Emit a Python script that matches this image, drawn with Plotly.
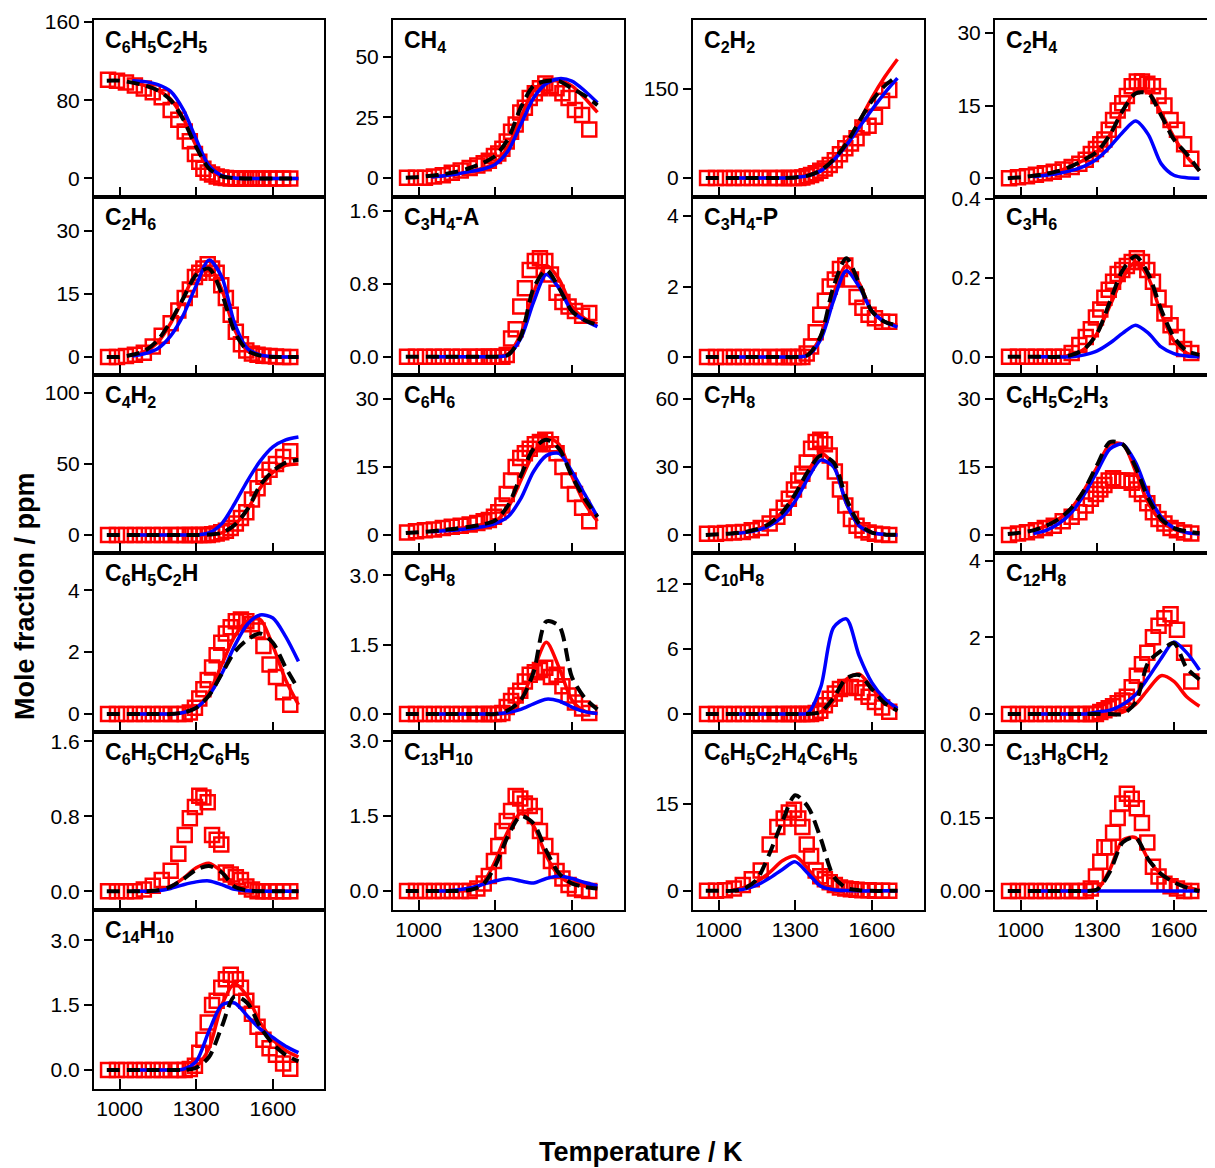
import plotly.graph_objects as go

# ---------------- data ----------------
T_exp = [955, 990, 1025, 1060, 1095, 1130, 1165, 1200, 1230, 1255, 1275, 1295, 1312, 1328, 1345,
         1362, 1380, 1398, 1416, 1435, 1455, 1475, 1496, 1518, 1540, 1563, 1587, 1612, 1640, 1668]
T_black = [950, 1000, 1050, 1100, 1150, 1200, 1250, 1300, 1350, 1400, 1450, 1500, 1550, 1600, 1650, 1700]
T_rb = [1050, 1100, 1150, 1200, 1250, 1300, 1350, 1400, 1450, 1500, 1550, 1600, 1650, 1700]

species = ["C6H5C2H5", "CH4", "C2H2", "C2H4", "C2H6", "C3H4-A", "C3H4-P", "C3H6",
           "C4H2", "C6H6", "C7H8", "C6H5C2H3", "C6H5C2H", "C9H8", "C10H8", "C12H8",
           "C6H5CH2C6H5", "C13H10", "C6H5C2H4C6H5", "C13H8CH2", "C14H10"]

labels = ["C<sub>6</sub>H<sub>5</sub>C<sub>2</sub>H<sub>5</sub>", "CH<sub>4</sub>", "C<sub>2</sub>H<sub>2</sub>",
          "C<sub>2</sub>H<sub>4</sub>", "C<sub>2</sub>H<sub>6</sub>", "C<sub>3</sub>H<sub>4</sub>-A",
          "C<sub>3</sub>H<sub>4</sub>-P", "C<sub>3</sub>H<sub>6</sub>", "C<sub>4</sub>H<sub>2</sub>",
          "C<sub>6</sub>H<sub>6</sub>", "C<sub>7</sub>H<sub>8</sub>", "C<sub>6</sub>H<sub>5</sub>C<sub>2</sub>H<sub>3</sub>",
          "C<sub>6</sub>H<sub>5</sub>C<sub>2</sub>H", "C<sub>9</sub>H<sub>8</sub>", "C<sub>10</sub>H<sub>8</sub>",
          "C<sub>12</sub>H<sub>8</sub>", "C<sub>6</sub>H<sub>5</sub>CH<sub>2</sub>C<sub>6</sub>H<sub>5</sub>",
          "C<sub>13</sub>H<sub>10</sub>", "C<sub>6</sub>H<sub>5</sub>C<sub>2</sub>H<sub>4</sub>C<sub>6</sub>H<sub>5</sub>",
          "C<sub>13</sub>H<sub>8</sub>CH<sub>2</sub>", "C<sub>14</sub>H<sub>10</sub>"]

exp_C6H5C2H5 = [101, 100, 98, 95, 92, 88, 83, 70, 60, 48, 38, 25, 17, 10, 6, 4, 2, 1, 0.5, 0, 0, 0, 0, 0, 0, 0, 0, 0, 0, 0]
blue_C6H5C2H5 = [100, 99, 96, 89, 70, 40, 13, 3, 0.5, 0, 0, 0, 0, 0]
red_C6H5C2H5 = [98, 95, 90, 81, 61, 33, 10, 2, 0.3, 0, 0, 0, 0, 0]
black_C6H5C2H5 = [100, 100, 98, 95, 90, 80, 60, 32, 10, 2, 0.3, 0, 0, 0, 0, 0]

exp_CH4 = [0, 0, 0, 0.5, 1, 2, 3, 4, 5, 6, 7, 9, 10, 12, 15, 19, 22, 27, 29, 33, 35, 37, 39, 38, 37, 35, 33, 28, 26, 20]
blue_CH4 = [0.3, 0.8, 1.5, 2.5, 3.5, 5.5, 11, 22, 33, 39, 41, 40, 36, 31]
red_CH4 = [0.3, 0.8, 1.5, 2.5, 3.8, 6, 13, 25, 36, 40, 40.5, 38, 33, 27]
black_CH4 = [0, 0.3, 0.8, 1.5, 2.5, 4, 6, 9, 16, 29, 38, 40, 40, 37, 34, 30]

exp_C2H2 = [0, 0, 0, 0, 0, 0, 0, 0, 0, 0, 0, 0, 0, 1, 3, 5, 8, 12, 16, 22, 30, 40, 50, 58, 67, 85, 88, 103, 130, 148]
blue_C2H2 = [0, 0, 0, 0, 0, 1, 4, 12, 30, 55, 85, 115, 143, 168]
red_C2H2 = [0, 0, 0, 0, 0, 1, 5, 14, 33, 60, 95, 135, 170, 200]
black_C2H2 = [0, 0, 0, 0, 0, 0, 0, 1, 4, 13, 31, 58, 95, 130, 155, 172]

exp_C2H4 = [0, 0.2, 0.4, 0.7, 1, 1.3, 1.8, 2.3, 3, 3.8, 5, 6, 7, 8, 10, 12, 14, 15.5, 17, 19, 20, 20, 19.5, 19, 17, 15, 12, 10, 7, 4]
blue_C2H4 = [0.3, 0.6, 1, 1.6, 2.5, 4, 6.5, 9.5, 11.8, 9, 3, 0.6, 0.1, 0]
red_C2H4 = [0.5, 0.9, 1.5, 2.5, 3.8, 5.5, 9, 14, 17.8, 17.8, 13.5, 8.5, 4.5, 1.5]
black_C2H4 = [0, 0.2, 0.5, 0.9, 1.5, 2.5, 3.8, 5.5, 9, 14, 17.5, 17.5, 13, 8, 5, 1.5]

exp_C2H6 = [0, 0, 0.2, 0.5, 1, 2.5, 5, 8, 11, 14, 16, 19, 20, 21, 22, 21, 20, 17, 14, 10, 6, 3, 1.5, 0.8, 0.5, 0.3, 0.2, 0.1, 0, 0]
blue_C2H6 = [0.2, 0.8, 2, 5, 10, 17, 23, 19, 8, 2, 0.5, 0.1, 0, 0]
red_C2H6 = [0.4, 1.3, 3.5, 8, 14, 20, 21.5, 16, 6.5, 1.5, 0.3, 0, 0, 0]
black_C2H6 = [0, 0, 0.5, 1.5, 4, 8.5, 14, 19.5, 21, 15, 6, 1.5, 0.3, 0, 0, 0]

exp_C3H4A = [0, 0, 0, 0, 0, 0, 0, 0, 0, 0, 0, 0, 0, 0, 0.02, 0.2, 0.3, 0.55, 0.75, 0.95, 1.05, 1.08, 1.05, 0.9, 0.7, 0.6, 0.55, 0.5, 0.45, 0.48]
blue_C3H4A = [0, 0, 0, 0, 0, 0, 0.02, 0.2, 0.6, 0.9, 0.75, 0.5, 0.4, 0.33]
red_C3H4A = [0, 0, 0, 0, 0, 0, 0.03, 0.25, 0.7, 1.0, 0.85, 0.55, 0.42, 0.36]
black_C3H4A = [0, 0, 0, 0, 0, 0, 0, 0, 0.02, 0.22, 0.75, 0.95, 0.75, 0.5, 0.4, 0.35]

exp_C3H4P = [0, 0, 0, 0, 0, 0, 0, 0, 0, 0, 0, 0, 0, 0, 0.1, 0.3, 0.7, 1.2, 1.6, 2.0, 2.2, 2.5, 2.6, 2.2, 1.7, 1.4, 1.2, 1.1, 1.0, 1.0]
blue_C3H4P = [0, 0, 0, 0, 0, 0, 0.05, 0.5, 1.6, 2.45, 2.0, 1.3, 1.0, 0.85]
red_C3H4P = [0, 0, 0, 0, 0, 0, 0.06, 0.6, 1.8, 2.6, 2.1, 1.3, 1.0, 0.9]
black_C3H4P = [0, 0, 0, 0, 0, 0, 0, 0, 0.06, 0.6, 2.0, 2.8, 2.1, 1.3, 1.0, 0.9]

exp_C3H6 = [0, 0, 0, 0, 0, 0, 0, 0.01, 0.03, 0.05, 0.07, 0.1, 0.12, 0.15, 0.17, 0.19, 0.21, 0.22, 0.23, 0.24, 0.25, 0.24, 0.22, 0.19, 0.15, 0.11, 0.08, 0.05, 0.02, 0.01]
blue_C3H6 = [0, 0, 0, 0, 0.005, 0.015, 0.035, 0.06, 0.08, 0.06, 0.025, 0.008, 0.002, 0]
red_C3H6 = [0, 0, 0, 0.005, 0.02, 0.06, 0.13, 0.2, 0.24, 0.2, 0.11, 0.04, 0.01, 0]
black_C3H6 = [0, 0, 0, 0, 0, 0.005, 0.02, 0.06, 0.14, 0.22, 0.255, 0.21, 0.12, 0.05, 0.015, 0.005]

exp_C4H2 = [0, 0, 0, 0, 0, 0, 0, 0, 0, 0, 0, 0, 0, 0, 0, 0.5, 1, 2, 3, 5, 8, 12, 16, 25, 33, 41, 46, 50, 55, 59]
blue_C4H2 = [0, 0, 0, 0, 0, 0, 1.5, 8, 22, 38, 52, 62, 67, 69]
red_C4H2 = [0, 0, 0, 0, 0, 0, 0.3, 1.5, 7, 18, 33, 44, 49, 50]
black_C4H2 = [0, 0, 0, 0, 0, 0, 0, 0, 0.3, 1.5, 7, 18, 35, 45, 51, 53]

exp_C6H6 = [0.5, 0.8, 1, 1.2, 1.5, 1.8, 2, 2.3, 2.6, 3, 3.3, 4, 5, 6.5, 9, 12, 15, 17, 18, 19, 20, 20.5, 21, 20, 18, 15, 12, 9, 6, 3]
blue_C6H6 = [0.7, 0.9, 1.1, 1.4, 1.8, 2.5, 4, 8, 14, 17.5, 18, 14, 9, 4]
red_C6H6 = [0.8, 1.1, 1.4, 1.8, 2.3, 3, 6, 12, 18, 21.5, 20, 13, 7, 3]
black_C6H6 = [0.4, 0.6, 0.8, 1.1, 1.4, 1.8, 2.3, 3.2, 6.5, 13, 19, 21, 19, 13, 8, 4]

exp_C7H8 = [0.5, 0.5, 0.8, 1, 1.3, 2, 3, 5, 8, 12, 16, 20, 24, 27, 32, 38, 41, 42, 40, 35, 28, 20, 13, 7, 4, 2, 1, 0.5, 0.2, 0]
blue_C7H8 = [0.5, 1, 2, 4, 8, 15, 25, 33, 30, 14, 4, 1, 0.2, 0]
red_C7H8 = [0.6, 1.2, 2.5, 5, 10, 18, 28, 36, 31, 14, 4, 1, 0.2, 0]
black_C7H8 = [0, 0.3, 0.6, 1.2, 2.5, 5, 10, 18, 28, 35, 32, 16, 5, 1, 0.2, 0]

exp_C6H5C2H3 = [0, 0.3, 0.6, 1, 1.5, 2, 3, 4, 5, 6.5, 8, 9, 10, 11, 12, 12.5, 12, 12, 12, 11.5, 10, 9, 7, 5, 3.5, 2.5, 1.5, 1, 0.5, 0.3]
blue_C6H5C2H3 = [0.3, 1, 2.5, 5, 9, 14, 19, 20, 16, 9, 4, 1.5, 0.5, 0.2]
red_C6H5C2H3 = [1, 2, 3.5, 6, 10, 15, 20, 20, 14, 7, 3, 1.2, 0.5, 0.2]
black_C6H5C2H3 = [0.2, 0.5, 1, 2, 3.5, 6, 10, 15.5, 20.5, 20, 15, 8, 3.5, 1.5, 0.8, 0.4]

exp_C6H5C2H = [0, 0, 0, 0, 0, 0, 0, 0, 0, 0, 0.05, 0.2, 0.5, 0.8, 1.1, 1.5, 1.9, 2.3, 2.6, 2.8, 3.0, 3.05, 3.0, 2.9, 2.7, 2.2, 1.6, 1.2, 0.7, 0.3]
blue_C6H5C2H = [0, 0, 0, 0, 0.05, 0.2, 0.6, 1.3, 2.2, 2.9, 3.2, 3.1, 2.5, 1.7]
red_C6H5C2H = [0, 0, 0, 0, 0.05, 0.2, 0.7, 1.6, 2.5, 3.0, 3.05, 2.2, 1.1, 0.3]
black_C6H5C2H = [0, 0, 0, 0, 0, 0, 0.05, 0.2, 0.6, 1.3, 2.0, 2.4, 2.6, 2.3, 1.5, 0.8]

exp_C9H8 = [0, 0, 0, 0, 0, 0, 0, 0, 0, 0, 0, 0, 0, 0.02, 0.15, 0.28, 0.4, 0.5, 0.7, 0.85, 0.9, 0.95, 1.0, 0.8, 0.85, 0.6, 0.4, 0.25, 0.12, 0.02]
blue_C9H8 = [0, 0, 0, 0, 0, 0, 0.03, 0.1, 0.22, 0.32, 0.28, 0.15, 0.05, 0.01]
red_C9H8 = [0, 0, 0, 0, 0, 0, 0.03, 0.3, 0.95, 1.55, 1.0, 0.3, 0.06, 0.01]
black_C9H8 = [0, 0, 0, 0, 0, 0, 0, 0, 0.08, 0.3, 0.9, 2.0, 1.9, 0.8, 0.35, 0.1]

exp_C10H8 = [0, 0, 0, 0, 0, 0, 0, 0, 0, 0, 0, 0, 0, 0, 0, 0, 0.1, 0.3, 0.8, 1.4, 1.9, 2.3, 2.5, 2.5, 2.4, 2.0, 1.6, 1.1, 0.6, 0.2]
blue_C10H8 = [0, 0, 0, 0, 0, 0, 0.1, 2.5, 8.0, 8.8, 5.4, 2.9, 1.4, 0.5]
red_C10H8 = [0, 0, 0, 0, 0, 0, 0, 0.2, 1.2, 3.2, 3.7, 2.4, 1.0, 0.3]
black_C10H8 = [0, 0, 0, 0, 0, 0, 0, 0, 0, 0.2, 1.5, 3.3, 3.6, 2.3, 1.0, 0.3]

exp_C12H8 = [0, 0, 0, 0, 0, 0, 0, 0, 0, 0, 0, 0, 0.05, 0.1, 0.15, 0.2, 0.28, 0.35, 0.45, 0.7, 1.0, 1.3, 1.6, 2.0, 2.3, 2.5, 2.6, 2.2, 1.6, 0.85]
blue_C12H8 = [0, 0, 0, 0, 0, 0.05, 0.1, 0.25, 0.5, 0.95, 1.45, 1.88, 1.6, 1.15]
red_C12H8 = [0, 0, 0, 0, 0, 0, 0, 0.05, 0.25, 0.65, 1.0, 0.85, 0.45, 0.2]
black_C12H8 = [0, 0, 0, 0, 0, 0, 0, 0, 0, 0, 0.3, 1.35, 1.65, 1.85, 1.2, 0.9]

exp_C6H5CH2C6H5 = [0, 0, 0, 0, 0.02, 0.06, 0.12, 0.22, 0.4, 0.6, 0.78, 0.9, 1.02, 1.0, 0.95, 0.6, 0.55, 0.5, 0.2, 0.18, 0.15, 0.12, 0.05, 0.02, 0, 0, 0, 0, 0, 0]
blue_C6H5CH2C6H5 = [0, 0, 0.005, 0.03, 0.07, 0.1, 0.11, 0.07, 0.02, 0.005, 0, 0, 0, 0]
red_C6H5CH2C6H5 = [0, 0, 0.01, 0.05, 0.14, 0.25, 0.3, 0.21, 0.06, 0.01, 0, 0, 0, 0]
black_C6H5CH2C6H5 = [0, 0, 0, 0, 0.01, 0.05, 0.13, 0.23, 0.27, 0.2, 0.05, 0.01, 0, 0, 0, 0]

exp_C13H10 = [0, 0, 0, 0, 0, 0, 0, 0, 0.05, 0.15, 0.3, 0.6, 0.9, 1.2, 1.4, 1.6, 1.9, 1.85, 1.75, 1.7, 1.5, 1.2, 0.9, 0.6, 0.4, 0.25, 0.12, 0.05, 0.02, 0]
blue_C13H10 = [0, 0, 0.02, 0.06, 0.13, 0.2, 0.25, 0.2, 0.16, 0.25, 0.3, 0.25, 0.17, 0.1]
red_C13H10 = [0, 0, 0, 0.02, 0.15, 0.6, 1.2, 1.55, 1.3, 0.7, 0.3, 0.15, 0.1, 0.05]
black_C13H10 = [0, 0, 0, 0, 0, 0.02, 0.12, 0.5, 1.1, 1.5, 1.35, 0.8, 0.35, 0.15, 0.08, 0.05]

exp_C6H5C2H4C6H5 = [0, 0, 0.1, 0.4, 1, 2, 3.5, 8, 11, 12.5, 13.5, 14, 12.5, 11, 8, 6, 3.5, 2.5, 2, 1.5, 1, 0.6, 0.4, 0.3, 0.2, 0.1, 0.1, 0, 0, 0]
blue_C6H5C2H4C6H5 = [0, 0.3, 1, 2.2, 3.7, 5, 3, 0.8, 0.2, 0.05, 0, 0, 0, 0]
red_C6H5C2H4C6H5 = [0.1, 0.6, 1.6, 3.2, 5.2, 6, 3.8, 1.2, 0.3, 0.1, 0, 0, 0, 0]
black_C6H5C2H4C6H5 = [0, 0, 0, 0.4, 2, 6.5, 12, 16.5, 14.5, 9, 2.5, 0.5, 0.1, 0, 0, 0]

exp_C13H8CH2 = [0, 0, 0, 0, 0, 0, 0, 0, 0, 0, 0.005, 0.03, 0.06, 0.09, 0.09, 0.12, 0.15, 0.18, 0.2, 0.19, 0.17, 0.14, 0.1, 0.05, 0.03, 0.015, 0.01, 0.005, 0, 0]
blue_C13H8CH2 = [0, 0, 0, 0, 0, 0, 0, 0, 0, 0, 0, 0, 0, 0]
red_C13H8CH2 = [0, 0, 0, 0, 0, 0.003, 0.045, 0.105, 0.11, 0.065, 0.035, 0.02, 0.008, 0.002]
black_C13H8CH2 = [0, 0, 0, 0, 0, 0, 0, 0.003, 0.04, 0.1, 0.11, 0.065, 0.035, 0.018, 0.007, 0]

exp_C14H10 = [0, 0, 0, 0, 0, 0, 0, 0, 0, 0, 0.02, 0.1, 0.4, 0.7, 1.1, 1.5, 1.6, 1.9, 2.1, 2.2, 2.1, 1.9, 1.6, 1.3, 1.0, 0.7, 0.5, 0.35, 0.15, 0.03]
blue_C14H10 = [0, 0, 0, 0, 0.02, 0.2, 0.9, 1.5, 1.55, 1.25, 0.95, 0.75, 0.55, 0.4]
red_C14H10 = [0, 0, 0, 0, 0.01, 0.08, 0.5, 1.5, 2.0, 1.7, 1.1, 0.7, 0.45, 0.3]
black_C14H10 = [0, 0, 0, 0, 0, 0, 0, 0.05, 0.3, 1.0, 1.7, 1.55, 1.0, 0.6, 0.35, 0.2]

exp_all = [exp_C6H5C2H5, exp_CH4, exp_C2H2, exp_C2H4, exp_C2H6, exp_C3H4A, exp_C3H4P, exp_C3H6,
           exp_C4H2, exp_C6H6, exp_C7H8, exp_C6H5C2H3, exp_C6H5C2H, exp_C9H8, exp_C10H8, exp_C12H8,
           exp_C6H5CH2C6H5, exp_C13H10, exp_C6H5C2H4C6H5, exp_C13H8CH2, exp_C14H10]
blue_all = [blue_C6H5C2H5, blue_CH4, blue_C2H2, blue_C2H4, blue_C2H6, blue_C3H4A, blue_C3H4P, blue_C3H6,
            blue_C4H2, blue_C6H6, blue_C7H8, blue_C6H5C2H3, blue_C6H5C2H, blue_C9H8, blue_C10H8, blue_C12H8,
            blue_C6H5CH2C6H5, blue_C13H10, blue_C6H5C2H4C6H5, blue_C13H8CH2, blue_C14H10]
red_all = [red_C6H5C2H5, red_CH4, red_C2H2, red_C2H4, red_C2H6, red_C3H4A, red_C3H4P, red_C3H6,
           red_C4H2, red_C6H6, red_C7H8, red_C6H5C2H3, red_C6H5C2H, red_C9H8, red_C10H8, red_C12H8,
           red_C6H5CH2C6H5, red_C13H10, red_C6H5C2H4C6H5, red_C13H8CH2, red_C14H10]
black_all = [black_C6H5C2H5, black_CH4, black_C2H2, black_C2H4, black_C2H6, black_C3H4A, black_C3H4P, black_C3H6,
             black_C4H2, black_C6H6, black_C7H8, black_C6H5C2H3, black_C6H5C2H, black_C9H8, black_C10H8, black_C12H8,
             black_C6H5CH2C6H5, black_C13H10, black_C6H5C2H4C6H5, black_C13H8CH2, black_C14H10]

y_ranges = [[-19, 162], [-8, 65.3], [-32, 266], [-3.9, 32.7], [-4.3, 38], [-0.2, 1.75], [-0.51, 4.54],
            [-0.046, 0.405], [-12.7, 112.7], [-4, 35.3], [-8, 70.6], [-4, 35.3], [-0.58, 5.2],
            [-0.39, 3.48], [-1.67, 14.9], [-0.47, 4.2], [-0.2, 1.7], [-0.38, 3.18], [-3.3, 27.4],
            [-0.039, 0.327], [-0.44, 3.7]]
y_ticks = [[0, 80, 160], [0, 25, 50], [0, 150], [0, 15, 30], [0, 15, 30], [0, 0.8, 1.6], [0, 2, 4],
           [0, 0.2, 0.4], [0, 50, 100], [0, 15, 30], [0, 30, 60], [0, 15, 30], [0, 2, 4],
           [0, 1.5, 3.0], [0, 6, 12], [0, 2, 4], [0, 0.8, 1.6], [0, 1.5, 3.0], [0, 15],
           [0, 0.15, 0.30], [0, 1.5, 3.0]]
y_ticktext = [["0", "80", "160"], ["0", "25", "50"], ["0", "150"], ["0", "15", "30"], ["0", "15", "30"],
              ["0.0", "0.8", "1.6"], ["0", "2", "4"], ["0.0", "0.2", "0.4"], ["0", "50", "100"],
              ["0", "15", "30"], ["0", "30", "60"], ["0", "15", "30"], ["0", "2", "4"],
              ["0.0", "1.5", "3.0"], ["0", "6", "12"], ["0", "2", "4"], ["0.0", "0.8", "1.6"],
              ["0.0", "1.5", "3.0"], ["0", "15"], ["0.00", "0.15", "0.30"], ["0.0", "1.5", "3.0"]]
x_ticks = [1000, 1300, 1600]
x_ticktext = ["1000", "1300", "1600"]

# ---------------- layout ----------------
OFF = 8  # default page body margin in the browser
W, H = 1215 - OFF, 1168 - OFF
col_px = [(94, 324), (393, 624), (693, 924), (995, 1215)]
row_px = [(20, 197), (197, 375), (375, 553), (553, 732), (732, 910), (910, 1089)]
PX_PER_K = 230 / 900.0
FONT = "Arial, Liberation Sans, sans-serif"


def fx(px):
    return (px - OFF) / W


def fy(py):
    return 1 - (py - OFF) / H


fig = go.Figure()
layout = dict(template="none", width=W, height=H, margin=dict(l=0, r=0, t=0, b=0, pad=0),
              paper_bgcolor="white", plot_bgcolor="white", showlegend=False,
              font=dict(family=FONT, color="black"))
annotations = []

for i, name in enumerate(species):
    r, c = divmod(i, 4)
    k = i + 1
    xa = "x" if k == 1 else f"x{k}"
    ya = "y" if k == 1 else f"y{k}"
    x0, x1 = col_px[c]
    y0, y1 = row_px[r]
    xmax = 900 + (x1 - x0) / PX_PER_K
    bottom_of_col = (r == 5) or (r == 4 and c > 0)

    layout["xaxis" if k == 1 else f"xaxis{k}"] = dict(
        domain=[fx(x0), min(fx(x1), 1.0)], range=[900, xmax], anchor=ya, automargin=False,
        tickvals=x_ticks, ticktext=x_ticktext, ticks="inside", ticklen=10, tickwidth=2,
        tickcolor="black", showticklabels=bottom_of_col,
        tickfont=dict(size=21, family=FONT, color="black"), ticklabelstandoff=0,
        showline=True, linewidth=2, linecolor="black", mirror=True,
        showgrid=False, zeroline=False)
    layout["yaxis" if k == 1 else f"yaxis{k}"] = dict(
        domain=[fy(y1), fy(y0)], range=y_ranges[i], anchor=xa, automargin=False,
        tickvals=y_ticks[i], ticktext=y_ticktext[i], ticks="outside", ticklen=8, tickwidth=2,
        tickcolor="black", tickfont=dict(size=21, family=FONT, color="black"),
        showline=True, linewidth=2, linecolor="black", mirror=True,
        showgrid=False, zeroline=False)

    fig.add_trace(go.Scatter(x=T_exp, y=exp_all[i], mode="markers", xaxis=xa, yaxis=ya,
                             marker=dict(symbol="square-open", size=14, color="#FF0000",
                                         line=dict(width=2.5, color="#FF0000"))))
    fig.add_trace(go.Scatter(x=T_rb, y=red_all[i], mode="lines", xaxis=xa, yaxis=ya,
                             line=dict(color="#FF0000", width=3.5, shape="spline", smoothing=0.8)))
    fig.add_trace(go.Scatter(x=T_rb, y=blue_all[i], mode="lines", xaxis=xa, yaxis=ya,
                             line=dict(color="#0000FF", width=3.5, shape="spline", smoothing=0.8)))
    fig.add_trace(go.Scatter(x=T_black, y=black_all[i], mode="lines", xaxis=xa, yaxis=ya,
                             line=dict(color="black", width=4, dash="13px,7px",
                                       shape="spline", smoothing=0.8)))

    annotations.append(dict(text=f"<b>{labels[i]}</b>", xref="paper", yref="paper",
                            x=fx(x0 + 9), y=fy(y0 + 5), xanchor="left", yanchor="top",
                            showarrow=False, font=dict(size=23, family=FONT, color="black")))

annotations.append(dict(text="<b>Mole fraction / ppm</b>", xref="paper", yref="paper",
                        x=fx(25), y=fy(596), textangle=-90, showarrow=False,
                        xanchor="center", yanchor="middle",
                        font=dict(size=27, family=FONT, color="black")))
annotations.append(dict(text="<b>Temperature / K</b>", xref="paper", yref="paper",
                        x=fx(641), y=fy(1152), showarrow=False,
                        xanchor="center", yanchor="middle",
                        font=dict(size=27, family=FONT, color="black")))
layout["annotations"] = annotations
fig.update_layout(**layout)

fig.write_html("out.html")
